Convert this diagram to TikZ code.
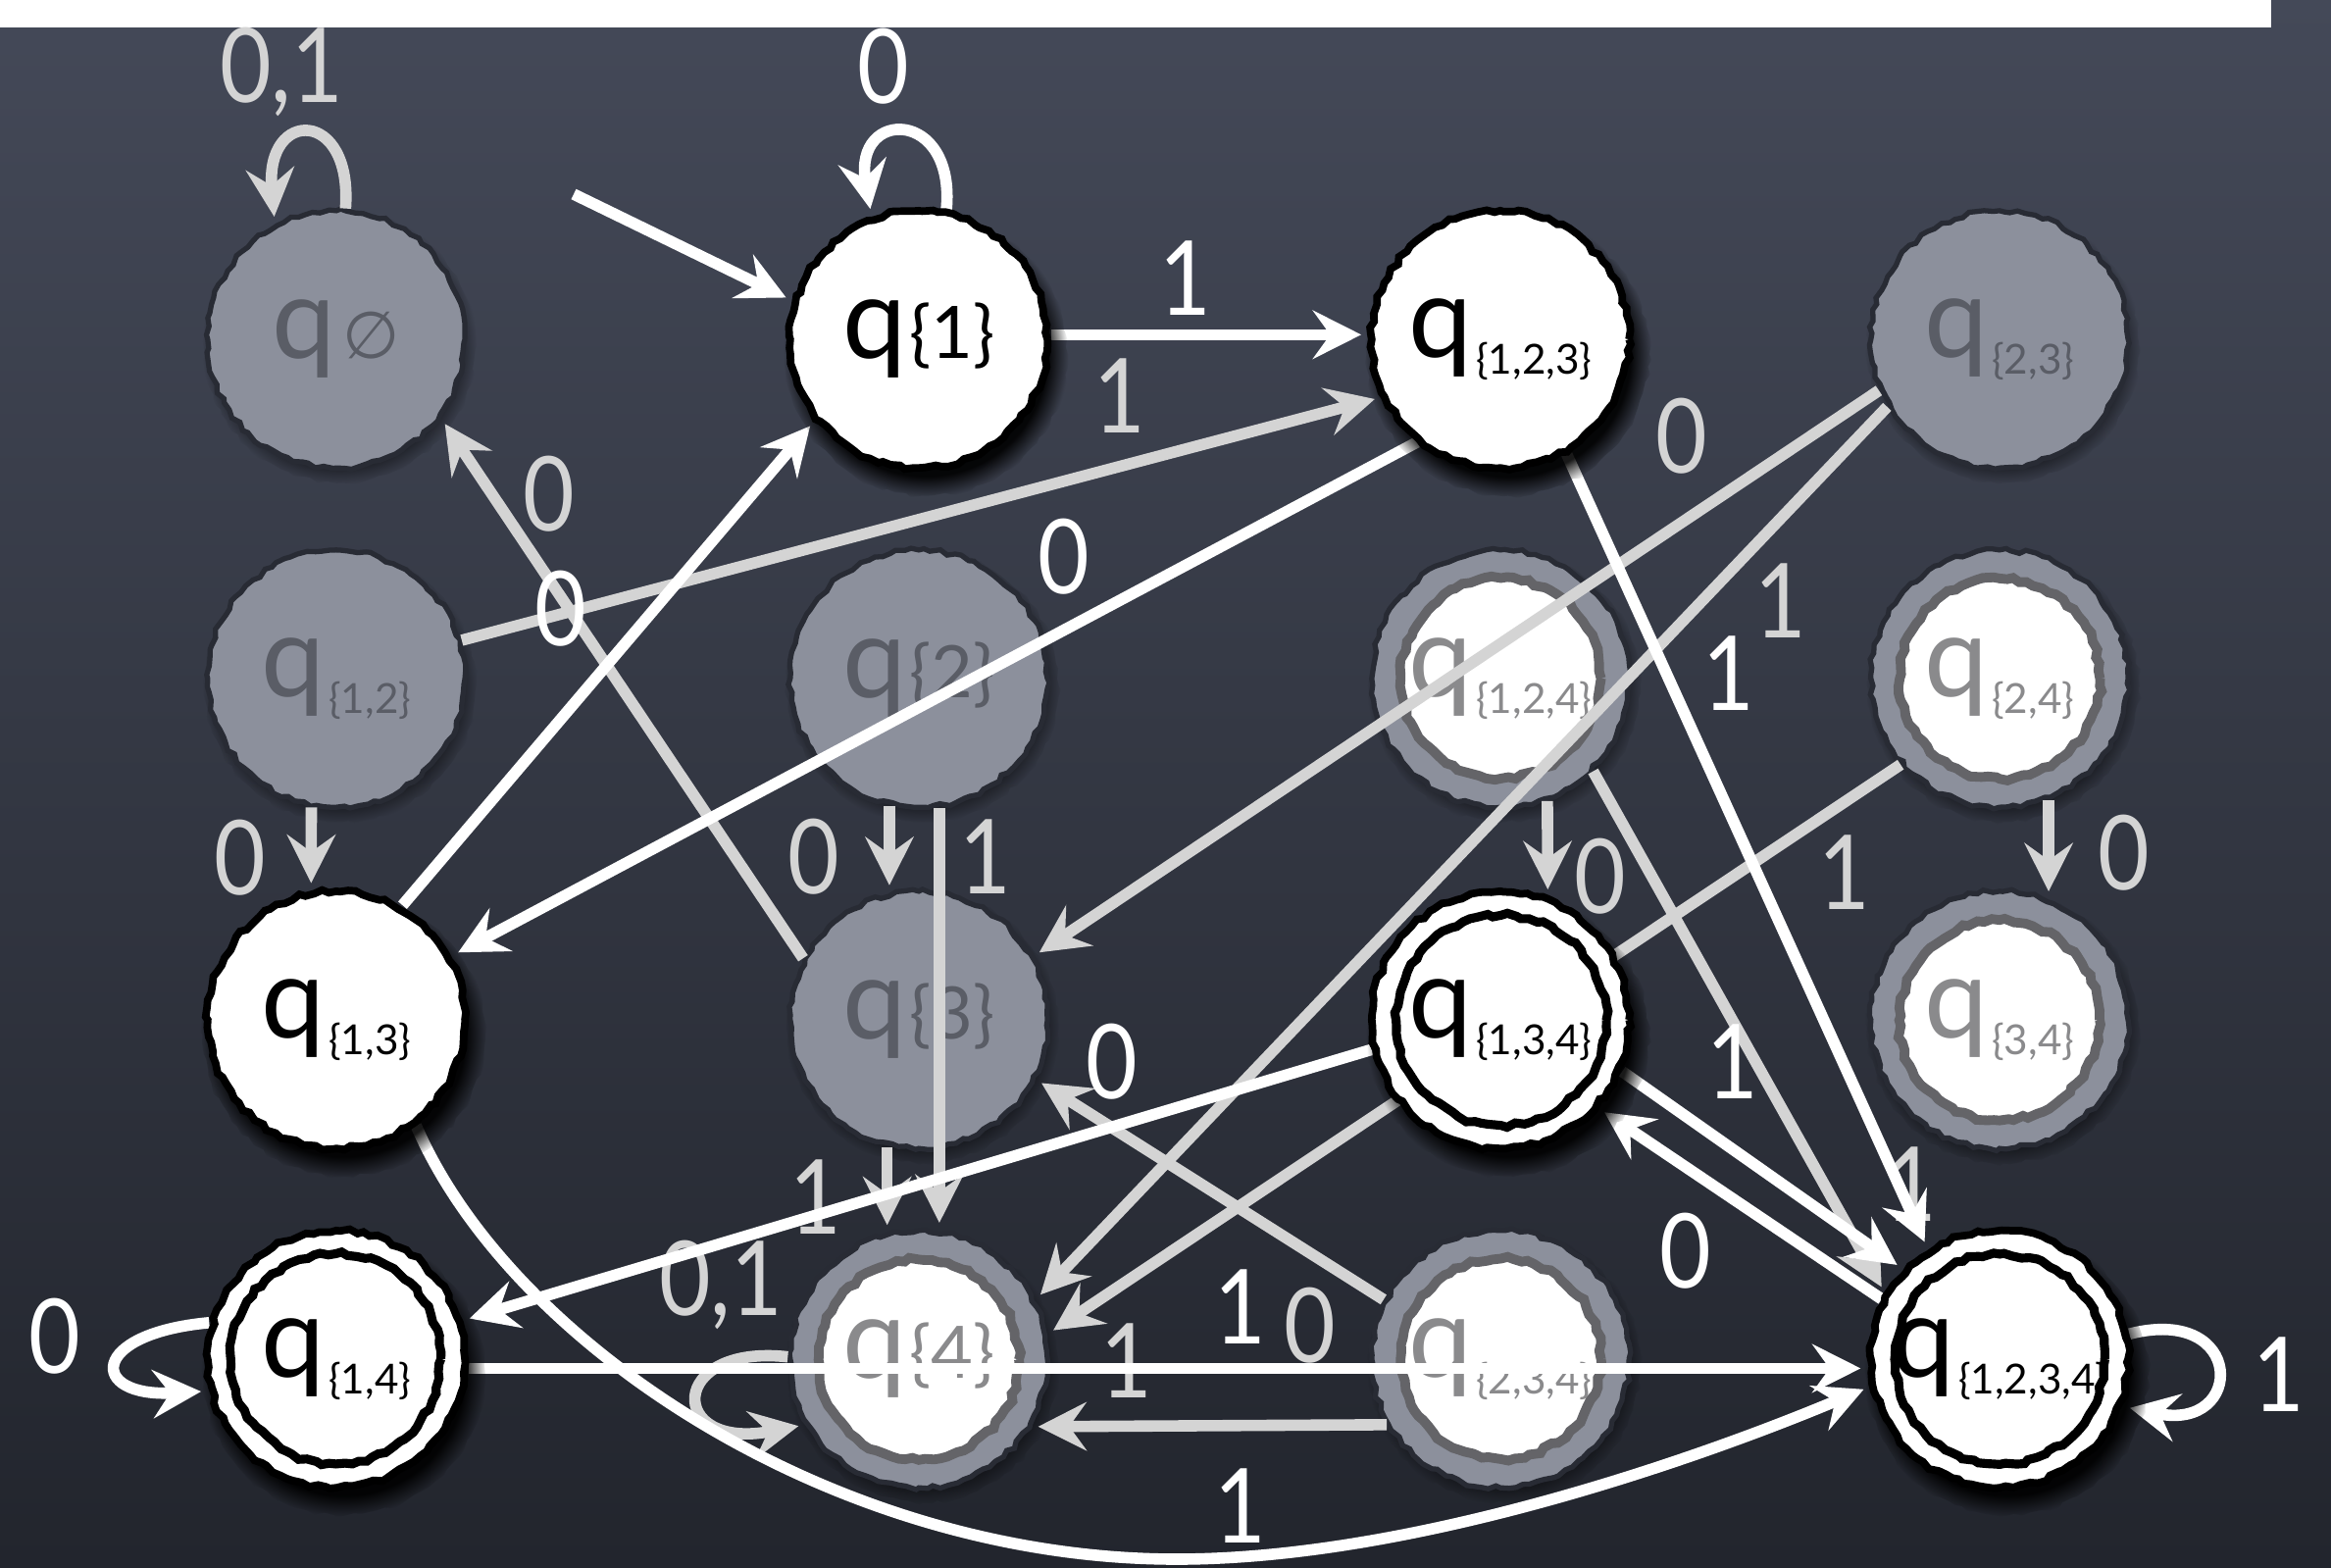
\documentclass[tikz,border=0pt]{standalone}
\usepackage{fontspec}
\setmainfont{Lato}
\newfontfamily\symfam{DejaVu Sans}
\usetikzlibrary{arrows.meta,shadows,decorations.pathmorphing}
\definecolor{chalktop}{RGB}{68,73,88}
\definecolor{chalkbot}{RGB}{34,37,45}
\definecolor{nodegray}{RGB}{140,144,156}
\definecolor{nodeborder}{RGB}{40,43,52}
\definecolor{gtext}{RGB}{90,93,102}
\definecolor{gacctext}{RGB}{138,138,140}
\definecolor{gring}{RGB}{100,100,104}
\definecolor{edgegray}{RGB}{212,212,212}
\newcommand\qset[1]{{\fontsize{33}{33}\selectfont q\kern1pt\raisebox{-5pt}{\fontsize{12}{13}\selectfont\{#1\}}}}
\newcommand\qsingle[1]{{\fontsize{33}{33}\selectfont q\kern1pt{\fontsize{21}{22}\selectfont\{#1\}}}}
\newcommand\qempty{{\fontsize{33}{33}\selectfont q\kern2pt{\symfam\fontsize{19}{20}\selectfont ∅}}}
\newcommand\lblfont{\fontsize{30}{30}\selectfont}
\newcommand\lbl[1]{\scalebox{0.86}[1]{#1}}
\pgfdeclarelayer{back}
\pgfdeclarelayer{mid}
\pgfsetlayers{back,mid,main}
\tikzset{
  rough/.style={decorate,decoration={random steps,segment length=2.2pt,amplitude=0.6pt}},
  nbase/.style={circle,minimum size=2.62cm,inner sep=0pt},
  gnode/.style={nbase,rough,fill=nodegray,draw=nodeborder,line width=1.5pt,text=gtext,
    circular drop shadow={shadow xshift=1pt,shadow yshift=-2pt,shadow scale=1.06,opacity=0.5,fill=black}},
  gacc/.style={gnode,text=gacctext,path picture={
    \fill[white] (path picture bounding box.center) circle[radius=0.99cm];
    \draw[gring,line width=2.8pt,rough] (path picture bounding box.center) circle[radius=1.02cm];}},
  wnode/.style={nbase,rough,fill=white,draw=black,line width=2.2pt,text=black,
    circular drop shadow={shadow xshift=2pt,shadow yshift=-4pt,shadow scale=1.1,opacity=0.9,fill=black}},
  wacc/.style={wnode,path picture={
    \draw[black,line width=2.6pt,rough] (path picture bounding box.center) circle[radius=1.07cm];}},
  arr/.style={-{Stealth[length=14pt,width=14pt,inset=5pt]},shorten >=2pt},
  edgeW/.style={arr,draw=white,line width=3.3pt},
  edgeG/.style={arr,draw=edgegray,line width=3.3pt},
  lblW/.style={inner sep=0pt,text=white,font=\lblfont},
  lblG/.style={inner sep=0pt,text=edgegray,font=\lblfont},
}
\begin{document}
\pgfmathsetseed{11}
\begin{tikzpicture}[x=0.01cm,y=-0.01cm]
\useasboundingbox (0,0) rectangle (2377,1599);
\begin{pgfonlayer}{back}
\shade[top color=chalktop,bottom color=chalkbot] (0,0) rectangle (2377,1599);
\fill[white] (0,0) rectangle (2316,28);
\node[gnode] (qE) at (343,346) {\qempty};
\node[gnode] (q23) at (2039,346) {\qset{2,3}};
\node[gnode] (q12) at (343,692) {\qset{1,2}};
\node[gnode] (q2) at (937,692) {\qsingle{2}};
\node[gacc] (q124) at (1530,692) {\qset{1,2,4}};
\node[gacc] (q24) at (2039,692) {\qset{2,4}};
\node[gnode] (q3) at (937,1040) {\qsingle{3}};
\node[gacc] (q34) at (2039,1040) {\qset{3,4}};
\node[gacc] (q4) at (937,1386) {\qsingle{4}};
\node[gacc] (q234) at (1530,1386) {\qset{2,3,4}};
\end{pgfonlayer}
\node[wnode] (q1) at (937,346) {\qsingle{1}};
\node[wnode] (q123) at (1530,346) {\qset{1,2,3}};
\node[wnode] (q13) at (343,1040) {\qset{1,3}};
\node[wacc] (q134) at (1530,1040) {\qset{1,3,4}};
\node[wacc] (q14) at (343,1386) {\qset{1,4}};
\node[wacc] (q1234) at (2039,1386) {\qset{1,2,3,4}};
\coordinate (s0) at (585,198);
\begin{pgfonlayer}{mid}
% gray edges
\draw[edgeG] (qE.86) .. controls (360,110) and (270,110) .. (qE.118);
\draw[edgeG] (q12.17.6) -- (q123.206);
\draw[edgeG] (q3.152) -- (qE.323);
\draw[edgeG] (q12.259) -- (q13.101);
\draw[edgeG] (q2.257) -- (q3.103);
\draw[edgeG] (q2.-81) -- (q4.81);
\draw[edgeG] (q3.256) -- (q4.104);
\draw[edgeG] (q4.179) .. controls (680,1370) and (680,1480) .. (q4.210);
\draw[edgeG] (q234.210) -- (q4.-31);
\draw[edgeG] (q234.153) -- (q3.333);
\draw[edgeG] (q23.203) -- (q3.29);
\draw[edgeG] (q23.211) -- (q4.27);
\draw[edgeG] (q24.221) -- (q4.11);
\draw[edgeG] (q124.-69) -- (q134.69);
\draw[edgeG] (q124.-45) -- (q1234.150);
\draw[edgeG] (q24.-68) -- (q34.68);
% gray labels
\node[lblG] (lE) at (287,73) {\lbl{0,1}};
\node[lblG] (l12a) at (1142,404) {\lbl{1}};
\node[lblG] (l3E) at (560,504) {\lbl{0}};
\node[lblG] (l12b) at (245,875) {\lbl{0}};
\node[lblG] (l23) at (830,874) {\lbl{0}};
\node[lblG] (l24) at (1005,874) {\lbl{1}};
\node[lblG] (l34) at (832,1221) {\lbl{1}};
\node[lblG] (l44) at (735,1310) {\lbl{0,1}};
\node[lblG] (l2344) at (1149,1388) {\lbl{1}};
\node[lblG] (l2343) at (1336,1352) {\lbl{0}};
\node[lblG] (l233) at (1715,445) {\lbl{0}};
\node[lblG] (l234) at (1816,613) {\lbl{1}};
\node[lblG] (l244) at (1881,890) {\lbl{1}};
\node[lblG] (l124a) at (1632,894) {\lbl{0}};
\node[lblG] (l2434) at (2166,870) {\lbl{0}};
\node[lblG] (l124b) at (1949,1208) {\lbl{1}};
% white edges
\draw[edgeW] (s0) -- (q1.163);
\draw[edgeW] (q1.78) .. controls (975,110) and (870,110) .. (q1.111);
\draw[edgeW] (q1.2) -- (q123.178);
\draw[edgeW] (q123.231) -- (q13.29);
\draw[edgeW] (q13.60) -- (q1.218);
\draw[edgeW] (q123.300) -- (q1234.123);
\draw[edgeW] (q13.-53) .. controls (520,1370) and (850,1590) .. (1200,1590) .. controls (1450,1590) and (1750,1480) .. (q1234.192);
\draw[edgeW] (q14.-4) -- (q1234.184);
\draw[edgeW] (q134.193) -- (q14.17);
\draw[edgeW] (q134.-23) -- (q1234.137);
\draw[edgeW] (q1234.153) -- (q134.318);
\draw[edgeW] (q1234.11) .. controls (2290,1330) and (2290,1460) .. (q1234.-21);
\draw[edgeW] (q14.164) .. controls (90,1360) and (90,1425) .. (q14.194);
% white labels
\node[lblW] (l11) at (901,68) {\lbl{0}};
\node[lblW] (l1123) at (1209,284) {\lbl{1}};
\node[lblW] (l12313) at (1085,568) {\lbl{0}};
\node[lblW] (l131) at (572,621) {\lbl{0}};
\node[lblW] (l1231234) at (1763,687) {\lbl{1}};
\node[lblW] (l131234) at (1265,1536) {\lbl{1}};
\node[lblW] (l13414) at (1134,1083) {\lbl{0}};
\node[lblW] (l1341234) at (1767,1083) {\lbl{1}};
\node[lblW] (l1234134) at (1719,1276) {\lbl{0}};
\node[lblW] (l12341234) at (2324,1402) {\lbl{1}};
\node[lblW] (l1414) at (56,1363) {\lbl{0}};
\node[lblW] (l141234) at (1265,1333) {\lbl{1}};
\end{pgfonlayer}
\end{tikzpicture}
\end{document}
